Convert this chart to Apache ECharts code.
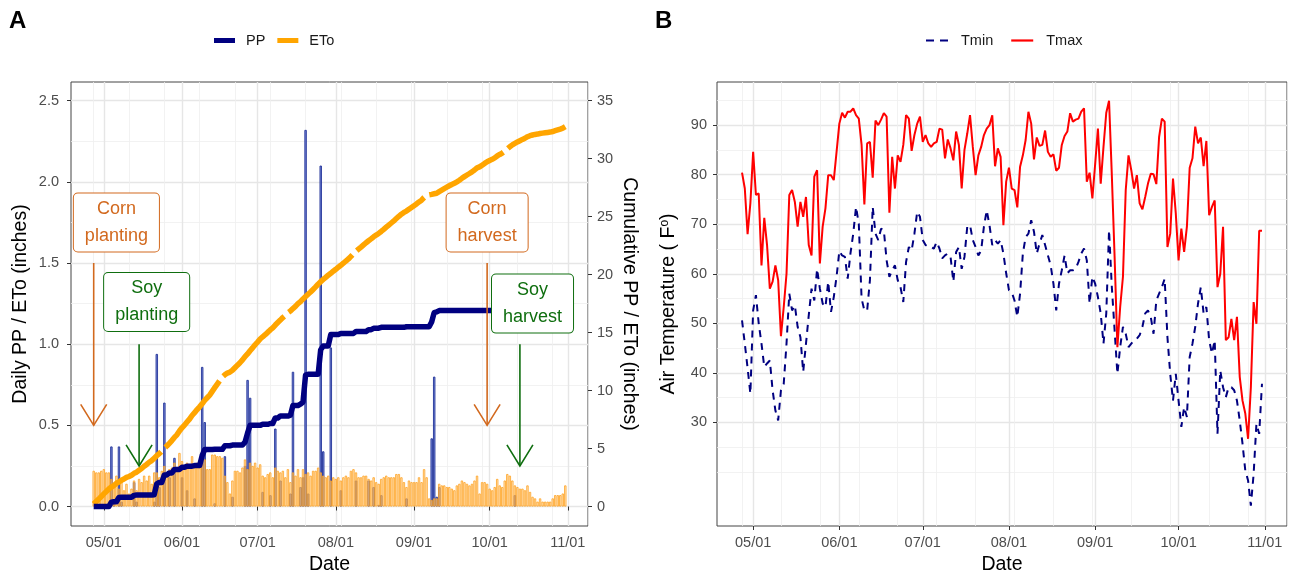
<!DOCTYPE html>
<html>
<head>
<meta charset="utf-8">
<script src="https://cdn.jsdelivr.net/npm/echarts@6/dist/echarts.min.js"></script>
<style>
html, body { margin: 0; padding: 0; background: #fff; }
#main { width: 1289px; height: 576px; }
</style>
</head>
<body>
<div id="main"></div>
<script>
// one value per day, 04/27 .. 10/31
var firstDay = '2019-04-27';
// x range shown on both panels (ggplot expands the dates a bit)
var axisFrom = '2019-04-18';
var axisTo = '2019-11-09';

// daily precipitation (inches)
var pp = [
  0, 0, 0, 0, 0, 0, 0, 0.37, 0.04, 0,
  0.37, 0.03, 0, 0, 0, 0, 0.15, 0.03, 0, 0,
  0, 0, 0, 0, 0.03, 0.94, 0.12, 0, 0.64, 0,
  0.18, 0, 0.30, 0, 0, 0.18, 0, 0.10, 0, 0,
  0.05, 0, 0, 0.86, 0.52, 0, 0, 0, 0.02, 0,
  0, 0, 0.31, 0, 0, 0.06, 0, 0, 0, 0,
  0.25, 0.78, 0.67, 0, 0, 0, 0, 0.09, 0, 0,
  0.07, 0, 0.48, 0, 0.16, 0, 0, 0, 0.08, 0.83,
  0, 0, 0.12, 0.18, 2.32, 0.08, 0, 0, 0, 0,
  2.10, 0.34, 0, 0, 0.98, 0, 0, 0, 0.10, 0,
  0, 0, 0, 0, 0.16, 0, 0, 0, 0, 0.16,
  0, 0.12, 0, 0.01, 0.07, 0, 0, 0, 0, 0,
  0, 0, 0, 0, 0.05, 0, 0, 0, 0, 0,
  0, 0, 0, 0, 0.42, 0.80, 0.06, 0.12, 0, 0,
  0, 0, 0, 0, 0, 0, 0, 0, 0, 0,
  0, 0, 0, 0, 0, 0, 0, 0, 0, 0,
  0, 0, 0, 0, 0, 0, 0, 0.07, 0, 0,
  0, 0, 0, 0, 0, 0, 0, 0, 0, 0,
  0, 0, 0, 0, 0, 0, 0, 0
];

// daily reference evapotranspiration (inches)
var eto = [
  0.22, 0.21, 0.21, 0.22, 0.23, 0.21, 0.21, 0.17, 0.13, 0.19,
  0.11, 0.16, 0.10, 0.14, 0.08, 0.11, 0.16, 0.10, 0.17, 0.15,
  0.19, 0.16, 0.19, 0.14, 0.21, 0.21, 0.18, 0.22, 0.25, 0.19,
  0.23, 0.24, 0.27, 0.22, 0.33, 0.28, 0.23, 0.27, 0.25, 0.31,
  0.24, 0.27, 0.24, 0.26, 0.29, 0.23, 0.23, 0.32, 0.32, 0.31,
  0.31, 0.30, 0.19, 0.15, 0.08, 0.16, 0.22, 0.22, 0.21, 0.24,
  0.29, 0.23, 0.27, 0.25, 0.27, 0.24, 0.26, 0.19, 0.18, 0.20,
  0.21, 0.18, 0.24, 0.22, 0.21, 0.22, 0.18, 0.23, 0.15, 0.21,
  0.19, 0.23, 0.18, 0.23, 0.20, 0.21, 0.19, 0.22, 0.22, 0.24,
  0.21, 0.19, 0.18, 0.19, 0.16, 0.18, 0.17, 0.18, 0.16, 0.18,
  0.19, 0.18, 0.22, 0.23, 0.21, 0.18, 0.18, 0.19, 0.19, 0.17,
  0.16, 0.18, 0.15, 0.14, 0.17, 0.18, 0.19, 0.18, 0.18, 0.18,
  0.20, 0.20, 0.18, 0.15, 0.12, 0.16, 0.15, 0.15, 0.15, 0.18,
  0.15, 0.23, 0.18, 0.05, 0.04, 0.05, 0.05, 0.14, 0.13, 0.13,
  0.12, 0.12, 0.11, 0.10, 0.13, 0.14, 0.16, 0.15, 0.14, 0.13,
  0.14, 0.16, 0.19, 0.08, 0.15, 0.15, 0.14, 0.11, 0.10, 0.12,
  0.17, 0.13, 0.12, 0.16, 0.20, 0.19, 0.16, 0.13, 0.12, 0.11,
  0.11, 0.10, 0.13, 0.09, 0.06, 0.05, 0.03, 0.05, 0.03, 0.03,
  0.03, 0.03, 0.05, 0.07, 0.07, 0.07, 0.08, 0.13
];

// daily air temperature (F)
var tmax = [
  80.4, 77.2, 68.0, 74.2, 84.6, 75.9, 76.2, 61.7, 71.3, 65.8,
  57.0, 58.4, 61.7, 58.7, 47.4, 53.3, 60.0, 75.9, 76.9, 74.5,
  69.5, 74.5, 71.5, 75.5, 65.8, 63.7, 79.6, 80.9, 62.1, 69.5,
  73.2, 79.9, 79.9, 78.9, 84.6, 90.3, 92.5, 91.5, 92.7, 92.7,
  93.4, 92.0, 91.3, 86.0, 74.0, 86.3, 86.6, 79.4, 90.9, 90.0,
  91.1, 92.4, 91.7, 72.3, 83.6, 77.2, 83.9, 82.6, 86.0, 92.0,
  91.3, 84.8, 88.0, 90.3, 91.7, 86.6, 88.0, 86.3, 85.6, 86.3,
  86.6, 89.3, 89.1, 83.3, 87.1, 85.3, 82.9, 88.7, 86.0, 77.2,
  85.0, 88.3, 92.0, 85.6, 79.9, 83.9, 85.6, 88.0, 89.3, 90.0,
  92.0, 81.7, 85.3, 83.6, 69.8, 78.6, 81.4, 77.2, 76.9, 73.4,
  81.6, 83.9, 87.0, 92.7, 90.3, 83.1, 87.5, 85.8, 86.0, 88.9,
  84.6, 83.6, 84.1, 80.8, 81.4, 86.0, 87.8, 88.7, 92.4, 90.7,
  91.1, 91.3, 92.7, 93.4, 78.6, 80.4, 75.2, 82.1, 89.3, 78.2,
  85.6, 92.5, 94.9, 79.9, 63.4, 45.2, 53.3, 59.4, 76.9, 83.9,
  80.9, 77.2, 79.9, 74.2, 73.0, 75.5, 78.2, 80.2, 80.1, 78.1,
  87.6, 91.3, 90.7, 65.4, 68.1, 79.2, 72.2, 62.7, 69.1, 64.4,
  69.5, 81.4, 83.3, 89.7, 86.3, 87.5, 81.7, 86.8, 71.8, 73.5,
  74.8, 57.3, 60.0, 69.5, 46.6, 47.2, 50.9, 46.6, 51.3, 39.2,
  34.4, 31.8, 26.7, 37.1, 54.3, 49.9, 68.7, 68.7
];
var tmin = [
  50.6, 45.9, 41.0, 35.8, 52.6, 55.7, 50.0, 45.9, 41.2, 41.9,
  42.5, 36.5, 32.4, 30.4, 36.5, 37.8, 45.9, 56.0, 52.6, 53.6,
  49.3, 47.2, 40.2, 45.9, 51.6, 57.0, 54.6, 61.0, 57.0, 54.0,
  53.3, 58.4, 52.3, 55.3, 59.4, 64.6, 63.7, 63.4, 59.0, 64.1,
  68.1, 73.5, 70.1, 55.0, 52.6, 52.6, 58.7, 73.5, 68.1, 66.8,
  69.1, 68.8, 62.7, 59.4, 60.7, 61.7, 58.7, 57.3, 54.3, 62.4,
  65.4, 64.7, 68.1, 72.5, 71.5, 66.8, 65.8, 65.4, 65.4, 65.1,
  66.4, 65.1, 63.1, 63.7, 64.1, 63.4, 58.4, 64.4, 65.4, 61.0,
  63.4, 69.5, 69.8, 66.8, 65.4, 63.7, 64.7, 69.5, 72.8, 69.8,
  65.8, 66.8, 66.1, 66.8, 64.1, 60.1, 56.7, 56.3, 54.6, 51.3,
  56.0, 64.1, 67.4, 68.1, 70.8, 68.5, 64.1, 66.1, 67.8, 65.8,
  63.7, 61.7, 58.0, 52.6, 58.0, 60.7, 63.7, 60.1, 60.7, 60.7,
  61.0, 62.4, 64.1, 65.1, 62.7, 54.0, 59.4, 58.0, 55.3, 52.0,
  45.9, 52.0, 68.8, 57.3, 48.6, 39.8, 45.2, 49.3, 47.9, 45.2,
  45.9, 46.6, 46.9, 47.6, 49.3, 52.0, 52.6, 51.3, 47.9, 54.6,
  56.0, 57.3, 59.0, 47.2, 39.8, 34.4, 39.8, 34.4, 29.1, 33.1,
  31.1, 43.2, 45.9, 49.3, 54.0, 57.3, 52.0, 53.3, 46.6, 43.9,
  46.6, 27.7, 40.5, 37.1, 35.1, 37.1, 37.1, 36.5, 34.4, 30.4,
  25.7, 20.3, 18.3, 13.2, 19.6, 29.7, 27.7, 37.8
];

// tick labels
var dailyTicks = [0, 0.5, 1, 1.5, 2, 2.5];
var dailyMinor = [0.25, 0.75, 1.25, 1.75, 2.25];
var cumTicks = [0, 5, 10, 15, 20, 25, 30, 35];
var tempTicks = [30, 40, 50, 60, 70, 80, 90];
var tempMinor = [20, 25, 35, 45, 55, 65, 75, 85, 95];

// crop calendar notes
var noteText = ['Corn\nplanting', 'Soy\nplanting', 'Corn\nharvest', 'Soy\nharvest'];
var noteCrop = ['corn', 'soy', 'corn', 'soy'];
var noteArrowDay = ['04/27', '05/15', '09/30', '10/13'];
var noteArrowFrom = [1.5, 1.0, 1.5, 1.0];
var noteArrowTo = [0.5, 0.25, 0.5, 0.25];
var noteLabelDay = ['05/06', '05/18', '09/30', '10/18'];
var noteLabelAt = [1.75, 1.26, 1.75, 1.25];

var cropColor = { corn: '#d2691e', soy: '#0f6e0f' };
var font = 'Liberation Sans, Arial, sans-serif';

function mmdd(d) {
    var m = d.getUTCMonth() + 1, dd = d.getUTCDate();
    return (m < 10 ? '0' : '') + m + '/' + (dd < 10 ? '0' : '') + dd;
}

// all days on the axis, and the days that carry data
var days = [];
for (var t = Date.parse(axisFrom); t <= Date.parse(axisTo); t += 864e5) {
    days.push(mmdd(new Date(t)));
}
var dataDays = [];
for (var i = 0; i < pp.length; i++) {
    dataDays.push(mmdd(new Date(Date.parse(firstDay) + i * 864e5)));
}
var minorStart = days.indexOf(dataDays[0]);

// bars and running totals
var ppBars = [], etoBars = [], ppCum = [], etoCum = [], tminLine = [], tmaxLine = [];
var sP = 0, sE = 0;
for (var i = 0; i < dataDays.length; i++) {
    sP += pp[i];
    sE += eto[i];
    ppBars.push([dataDays[i], pp[i] > 0 ? pp[i] : '-']);
    etoBars.push([dataDays[i], eto[i]]);
    ppCum.push([dataDays[i], +sP.toFixed(3)]);
    etoCum.push([dataDays[i], +sE.toFixed(3)]);
    tminLine.push([dataDays[i], tmin[i]]);
    tmaxLine.push([dataDays[i], tmax[i]]);
}

var noteData = noteText.map(function (txt, i) {
    return [days.indexOf(noteArrowDay[i]), noteArrowFrom[i], noteArrowTo[i],
            days.indexOf(noteLabelDay[i]), noteLabelAt[i]];
});

var majorGrid = { color: '#e6e6e6', width: 1.4 };
var minorGrid = { color: '#efefef', width: 0.8 };
var tickStyle = { show: true, length: 4, lineStyle: { color: '#333', width: 1 } };
var labelStyle = { color: '#4d4d4d', fontSize: 14.5, fontFamily: font };
var nameStyle = { color: '#000', fontSize: 19.5, fontFamily: font };

function isFirst(idx, val) { return val.slice(3) === '01'; }
function isMinor(idx) { return idx >= minorStart && (idx - minorStart) % 14 === 0; }

function dateAxis(grid) {
    return [{
        gridIndex: grid, type: 'category', data: days, boundaryGap: false,
        axisLine: { show: false },
        axisTick: { show: true, length: 4, interval: isFirst, lineStyle: { color: '#333' } },
        axisLabel: Object.assign({ interval: isFirst, margin: 9 }, labelStyle),
        splitLine: { show: true, interval: isFirst, lineStyle: majorGrid },
        name: 'Date', nameLocation: 'middle', nameGap: 28, nameTextStyle: nameStyle
    }, {
        gridIndex: grid, type: 'category', data: days, boundaryGap: false,
        axisLine: { show: false }, axisTick: { show: false }, axisLabel: { show: false },
        splitLine: { show: true, interval: isMinor, lineStyle: minorGrid }
    }];
}

function pick(list, fmt) {
    return function (v) {
        for (var k = 0; k < list.length; k++) {
            if (Math.abs(list[k] - v) < 1e-6) return fmt(list[k]);
        }
        return '';
    };
}

var chart = echarts.init(document.getElementById('main'));
chart.setOption({
    animation: false,
    backgroundColor: '#fff',
    textStyle: { fontFamily: font },
    title: [
        { text: 'A', left: 9, top: 9, padding: 0, textStyle: { fontSize: 24, fontWeight: 'bold', color: '#000', fontFamily: font } },
        { text: 'B', left: 655, top: 9, padding: 0, textStyle: { fontSize: 24, fontWeight: 'bold', color: '#000', fontFamily: font } }
    ],
    legend: [{
        data: [{ name: 'PP', icon: 'rect' }, { name: 'ETo', icon: 'rect' }],
        left: 209, top: 28, itemWidth: 21, itemHeight: 5, itemGap: 12,
        textStyle: { fontSize: 14.5, color: '#1a1a1a', padding: [0, 0, 0, 6] }
    }, {
        data: [
            { name: 'Tmin', icon: 'path://M0,0h8v2h-8z M14,0h8v2h-8z' },
            { name: 'Tmax', icon: 'rect' }
        ],
        left: 921, top: 28, itemWidth: 22, itemHeight: 2.2, itemGap: 18, symbolKeepAspect: false,
        textStyle: { fontSize: 14.5, color: '#1a1a1a', padding: [0, 0, 0, 8] }
    }],
    grid: [
        { left: 71, top: 82, width: 517, height: 444, outerBoundsMode: 'none', show: true, borderColor: '#444', borderWidth: 1, backgroundColor: '#fff' },
        { left: 717, top: 82, width: 570, height: 444, outerBoundsMode: 'none', show: true, borderColor: '#444', borderWidth: 1, backgroundColor: '#fff' }
    ],
    xAxis: dateAxis(0).concat(dateAxis(1)),
    yAxis: [{
        gridIndex: 0, type: 'value', position: 'left', min: -0.12, max: 2.615, splitNumber: 5,
        axisLine: { show: false },
        axisTick: Object.assign({ customValues: dailyTicks }, tickStyle),
        axisLabel: Object.assign({ customValues: dailyTicks, margin: 12, formatter: pick(dailyTicks, function (v) { return v.toFixed(1); }) }, labelStyle),
        splitLine: { show: true, lineStyle: majorGrid },
        name: 'Daily PP / ETo (inches)', nameLocation: 'middle', nameGap: 40, nameTextStyle: nameStyle
    }, {
        gridIndex: 0, type: 'value', position: 'right', min: -0.12 * 14, max: 2.615 * 14, splitNumber: 7,
        axisLine: { show: false },
        axisTick: Object.assign({ customValues: cumTicks }, tickStyle),
        axisLabel: Object.assign({ customValues: cumTicks, margin: 9, formatter: pick(cumTicks, String) }, labelStyle),
        splitLine: { show: false },
        name: 'Cumulative PP / ETo (inches)', nameLocation: 'middle', nameGap: 31, nameRotate: -90, nameTextStyle: nameStyle
    }, {
        gridIndex: 0, type: 'value', position: 'left', min: -0.12, max: 2.615,
        axisLine: { show: false },
        axisTick: { show: false, customValues: dailyMinor },
        axisLabel: { show: false, customValues: dailyMinor },
        splitLine: { show: true, lineStyle: minorGrid }
    }, {
        gridIndex: 1, type: 'value', position: 'left', min: 9.1, max: 98.7, splitNumber: 9,
        axisLine: { show: false },
        axisTick: Object.assign({ customValues: tempTicks }, tickStyle),
        axisLabel: Object.assign({ customValues: tempTicks, margin: 10, formatter: pick(tempTicks, String) }, labelStyle),
        splitLine: { show: true, lineStyle: majorGrid },
        name: 'Air Temperature ( F{sup|o})', nameLocation: 'middle', nameGap: 38,
        nameTextStyle: Object.assign({ rich: { sup: { fontSize: 12, verticalAlign: 'top', fontFamily: font, color: '#000' } } }, nameStyle)
    }, {
        gridIndex: 1, type: 'value', position: 'left', min: 9.1, max: 98.7,
        axisLine: { show: false },
        axisTick: { show: false, customValues: tempMinor },
        axisLabel: { show: false, customValues: tempMinor },
        splitLine: { show: true, lineStyle: minorGrid }
    }],
    series: [{
        name: 'PP daily', type: 'bar', xAxisIndex: 0, yAxisIndex: 0, data: ppBars,
        barWidth: 2.4, barGap: '-100%',
        itemStyle: { color: 'rgba(100,120,210,0.85)', borderColor: '#223399', borderWidth: 0.9 }
    }, {
        name: 'ETo daily', type: 'bar', xAxisIndex: 0, yAxisIndex: 0, data: etoBars,
        barWidth: 2.3, barGap: '-100%',
        itemStyle: { color: 'rgba(255,210,150,0.55)', borderColor: '#ffa21f', borderWidth: 0.8 }
    }, {
        name: 'ETo', type: 'line', xAxisIndex: 0, yAxisIndex: 1, data: etoCum,
        symbol: 'none', itemStyle: { color: '#ffa500' },
        lineStyle: { color: '#ffa500', width: 5.5, type: [86, 6] }
    }, {
        name: 'PP', type: 'line', xAxisIndex: 0, yAxisIndex: 1, data: ppCum,
        symbol: 'none', itemStyle: { color: '#000080' },
        lineStyle: { color: '#000080', width: 5.5, join: 'round' }
    }, {
        name: 'notes', type: 'custom', xAxisIndex: 0, yAxisIndex: 0, data: noteData, z: 10,
        renderItem: function (params, api) {
            var i = params.dataIndex;
            var c = cropColor[noteCrop[i]];
            var top = api.coord([api.value(0), api.value(1)]);
            var tip = api.coord([api.value(0), api.value(2)]);
            var lab = api.coord([api.value(3), api.value(4)]);
            return {
                type: 'group',
                children: [{
                    type: 'line',
                    shape: { x1: top[0], y1: top[1], x2: tip[0], y2: tip[1] },
                    style: { stroke: c, lineWidth: 1.6 }
                }, {
                    type: 'polyline',
                    shape: { points: [[tip[0] - 13, tip[1] - 21], [tip[0], tip[1]], [tip[0] + 13, tip[1] - 21]] },
                    style: { stroke: c, fill: null, lineWidth: 1.6 }
                }, {
                    type: 'text', x: lab[0], y: lab[1],
                    style: {
                        text: noteText[i], align: 'center', verticalAlign: 'middle',
                        fontSize: 18, lineHeight: 27, fontFamily: font, fill: c,
                        backgroundColor: '#fff', borderColor: c, borderWidth: 1, borderRadius: 4,
                        padding: [2, 11]
                    }
                }]
            };
        }
    }, {
        name: 'Tmin', type: 'line', xAxisIndex: 2, yAxisIndex: 3, data: tminLine,
        symbol: 'none', itemStyle: { color: '#000080' },
        lineStyle: { color: '#000080', width: 2, type: [7, 6] }
    }, {
        name: 'Tmax', type: 'line', xAxisIndex: 2, yAxisIndex: 3, data: tmaxLine,
        symbol: 'none', itemStyle: { color: '#ff0000' },
        lineStyle: { color: '#ff0000', width: 2 }
    }]
});
</script>
</body>
</html>
